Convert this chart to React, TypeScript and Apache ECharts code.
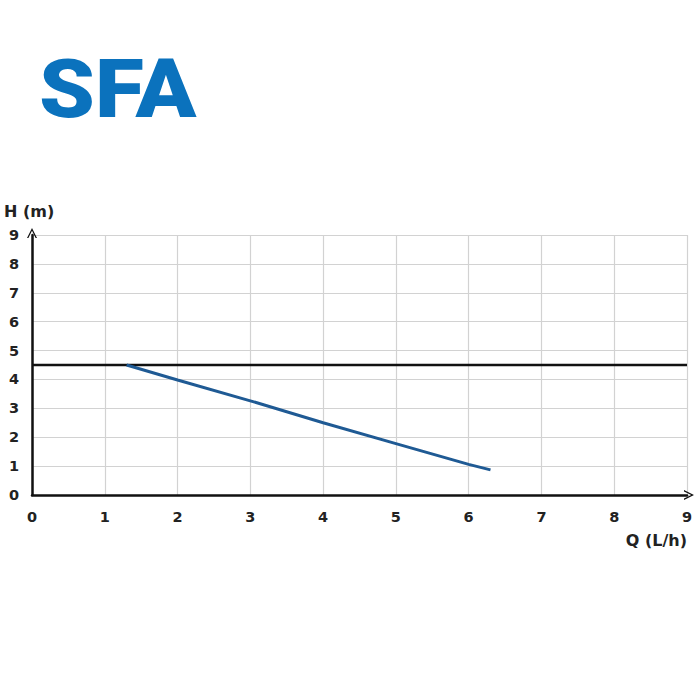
import React, { useEffect, useRef } from "react";
import * as echarts from "echarts";

const qTicks = [0, 1, 2, 3, 4, 5, 6, 7, 8, 9];
const hTicks = [0, 1, 2, 3, 4, 5, 6, 7, 8, 9];
const curveQ = [1.3, 2, 3, 4, 5, 6, 6.3];
const curveH = [4.5, 3.98, 3.26, 2.5, 1.78, 1.06, 0.87];
const refQ = [0, 9];
const refH = [4.5, 4.5];
const xName = "Q (L/h)";
const yName = "H (m)";
const logoText = "SFA";

const chevron = "path://M0,10 L5,0 L10,10 L8.6,10 L5,2.8 L1.4,10 Z";

export default function App() {
  const ref = useRef<HTMLDivElement>(null);
  useEffect(() => {
    if (!ref.current) return;
    const chart = echarts.init(ref.current, null, { renderer: "svg" });
    const font = "'DejaVu Sans', sans-serif";
    chart.setOption({
      animation: false,
      backgroundColor: "#ffffff",
      grid: { left: 32, right: 13, top: 235, bottom: 205, containLabel: false },
      xAxis: {
        type: "value",
        min: qTicks[0],
        max: qTicks[qTicks.length - 1],
        interval: 1,
        axisLine: {
          show: true,
          lineStyle: { color: "#111", width: 2.5 },
          symbol: ["none", chevron],
          symbolSize: [10, 10],
          symbolOffset: [0, 2],
        },
        axisTick: { show: false },
        splitLine: { show: true, lineStyle: { color: "#d2d2d2", width: 1.2 } },
        axisLabel: {
          margin: 14,
          color: "#222",
          fontSize: 14.5,
          fontWeight: "bold",
          fontFamily: font,
        },
      },
      yAxis: {
        type: "value",
        min: hTicks[0],
        max: hTicks[hTicks.length - 1],
        interval: 1,
        axisLine: {
          show: true,
          lineStyle: { color: "#111", width: 2.5 },
          symbol: ["none", chevron],
          symbolSize: [10, 10],
          symbolOffset: [0, 2],
        },
        axisTick: { show: false },
        splitLine: { show: true, lineStyle: { color: "#d2d2d2", width: 1.2 } },
        axisLabel: {
          margin: 13,
          color: "#222",
          fontSize: 14.5,
          fontWeight: "bold",
          fontFamily: font,
        },
      },
      series: [
        {
          type: "line",
          data: refQ.map((q, i) => [q, refH[i]]),
          symbol: "none",
          lineStyle: { color: "#111", width: 2.5 },
          z: 3,
        },
        {
          type: "line",
          data: curveQ.map((q, i) => [q, curveH[i]]),
          symbol: "none",
          lineStyle: { color: "#1f5a94", width: 3 },
          z: 4,
        },
      ],
      graphic: [
        {
          type: "text",
          x: 39,
          y: 48,
          scaleX: 1.09,
          style: {
            text: logoText,
            fill: "#0b72bd",
            font: "900 82px Roboto, 'Noto Sans', sans-serif",
          },
        },
        {
          type: "text",
          left: 4,
          top: 203,
          style: {
            text: yName,
            fill: "#222",
            font: "bold 16px 'DejaVu Sans', sans-serif",
          },
        },
        {
          type: "text",
          right: 13,
          top: 532,
          style: {
            text: xName,
            fill: "#222",
            font: "bold 16px 'DejaVu Sans', sans-serif",
          },
        },
      ],
    });
    return () => chart.dispose();
  }, []);
  return (
    <div
      ref={ref}
      style={{ position: "absolute", left: 0, top: 0, width: 700, height: 700 }}
    />
  );
}
